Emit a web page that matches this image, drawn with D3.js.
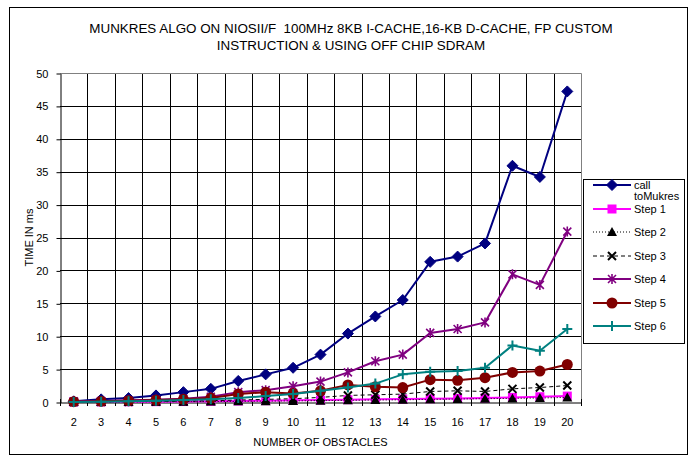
<!DOCTYPE html>
<html>
<head>
<meta charset="utf-8">
<script src="https://cdn.jsdelivr.net/npm/d3@7/dist/d3.min.js"></script>
<style>
  html, body { margin: 0; padding: 0; background: #fff; }
  svg { display: block; font-family: "Liberation Sans", Arial, sans-serif; }
</style>
</head>
<body>
<svg id="chart" width="697" height="458"></svg>
<script>
// Number of obstacles on the x axis
const obstacles = [2, 3, 4, 5, 6, 7, 8, 9, 10, 11, 12, 13, 14, 15, 16, 17, 18, 19, 20];

// Time in ms for each step of the algorithm
const callToMukres = [0.1, 0.4, 0.6, 1.0, 1.5, 2.0, 3.2, 4.2, 5.2, 7.2, 10.4, 13.0, 15.5, 21.3, 22.1, 24.1, 35.9, 34.2, 47.2];
const step1 = [0.01, 0.02, 0.03, 0.05, 0.07, 0.1, 0.15, 0.2, 0.25, 0.3, 0.35, 0.4, 0.45, 0.5, 0.55, 0.6, 0.7, 0.8, 0.9];
const step2 = [0.0, 0.01, 0.02, 0.03, 0.05, 0.07, 0.1, 0.13, 0.17, 0.2, 0.25, 0.3, 0.33, 0.4, 0.45, 0.5, 0.55, 0.6, 0.7];
const step3 = [0.0, 0.02, 0.05, 0.08, 0.1, 0.2, 0.3, 0.4, 0.5, 0.7, 1.0, 1.1, 1.2, 1.6, 1.7, 1.6, 2.0, 2.2, 2.5];
const step4 = [0.1, 0.15, 0.25, 0.35, 0.5, 0.8, 1.5, 1.8, 2.4, 3.1, 4.5, 6.2, 7.2, 10.5, 11.1, 12.1, 19.4, 17.8, 25.9];
const step5 = [0.05, 0.1, 0.2, 0.3, 0.4, 0.6, 1.2, 1.5, 1.3, 1.7, 2.6, 2.3, 2.2, 3.4, 3.3, 3.7, 4.5, 4.7, 5.7];
const step6 = [0.0, 0.05, 0.1, 0.2, 0.3, 0.4, 0.6, 0.9, 1.2, 1.7, 2.2, 2.8, 4.2, 4.6, 4.7, 5.2, 8.6, 7.8, 11.1];

const yTicks = [0, 5, 10, 15, 20, 25, 30, 35, 40, 45, 50];

const seriesNames = ["call\ntoMukres", "Step 1", "Step 2", "Step 3", "Step 4", "Step 5", "Step 6"];

const series = [
  { name: seriesNames[0], values: callToMukres, color: "#000080", width: 2, dash: null, marker: "diamond" },
  { name: seriesNames[1], values: step1, color: "#FF00FF", width: 2, dash: null, marker: "square" },
  { name: seriesNames[2], values: step2, color: "#000000", width: 1, dash: "1,2", marker: "triangle" },
  { name: seriesNames[3], values: step3, color: "#000000", width: 1, dash: "4,3", marker: "x" },
  { name: seriesNames[4], values: step4, color: "#800080", width: 2, dash: null, marker: "star" },
  { name: seriesNames[5], values: step5, color: "#800000", width: 2, dash: null, marker: "circle" },
  { name: seriesNames[6], values: step6, color: "#008080", width: 2, dash: null, marker: "plus" }
];

const svg = d3.select("#chart");

// Outer chart frame
svg.append("rect")
  .attr("x", 9.5).attr("y", 7.5).attr("width", 678).attr("height", 447)
  .attr("fill", "#fff").attr("stroke", "#000").attr("stroke-width", 1);

// Title (whitespace kept as written)
const title = svg.append("text")
  .attr("x", 351).attr("text-anchor", "middle")
  .attr("font-size", 13.4).attr("fill", "#000")
  .style("white-space", "pre");
title.append("tspan").attr("x", 351).attr("y", 33)
  .text("MUNKRES ALGO ON NIOSII/F  100MHz 8KB I-CACHE,16-KB D-CACHE, FP CUSTOM");
title.append("tspan").attr("x", 351).attr("y", 50)
  .text("INSTRUCTION & USING OFF CHIP SDRAM");

// Plot area
const plot = { left: 60, right: 581, top: 73, bottom: 402 };

const x = d3.scaleBand().domain(obstacles).range([plot.left, plot.right]).padding(0);
const y = d3.scaleLinear().domain([0, 50]).range([plot.bottom, plot.top]);
const cx = d => x(d) + x.bandwidth() / 2;

// Horizontal gridlines
svg.append("g").selectAll("line").data(yTicks.filter(t => t > 0)).join("line")
  .attr("x1", plot.left).attr("x2", plot.right)
  .attr("y1", d => Math.round(y(d)) + 0.5).attr("y2", d => Math.round(y(d)) + 0.5)
  .attr("stroke", "#000").attr("stroke-width", 1);

// Vertical gridlines at category boundaries
const boundaries = obstacles.map(d => x(d)).concat([plot.right]);
svg.append("g").selectAll("line").data(boundaries.slice(1, -1)).join("line")
  .attr("x1", d => Math.round(d) + 0.5).attr("x2", d => Math.round(d) + 0.5)
  .attr("y1", plot.top).attr("y2", plot.bottom)
  .attr("stroke", "#000").attr("stroke-width", 1);

// Plot border (top / right)
svg.append("path")
  .attr("d", `M${plot.left},${plot.top + 0.5}H${plot.right + 0.5}V${plot.bottom}`)
  .attr("fill", "none").attr("stroke", "#808080").attr("stroke-width", 1);

// Y axis
const yAxis = svg.append("g")
  .attr("transform", `translate(${plot.left + 0.5},0.5)`)
  .call(d3.axisLeft(y).tickValues(yTicks).tickSize(4).tickPadding(8).tickSizeOuter(0));
yAxis.select(".domain").attr("stroke", "#000");
yAxis.selectAll(".tick line").attr("stroke", "#000");
yAxis.selectAll(".tick text").attr("font-size", 11).attr("font-family", "Liberation Sans, Arial, sans-serif").attr("fill", "#000");

// X axis: labels centred on categories, tick marks on boundaries
const xAxis = svg.append("g")
  .attr("transform", `translate(0,${plot.bottom + 0.5})`)
  .call(d3.axisBottom(x).tickSize(0).tickPadding(16).tickSizeOuter(0));
xAxis.select(".domain").attr("stroke", "#000");
xAxis.selectAll(".tick text").attr("font-size", 11).attr("font-family", "Liberation Sans, Arial, sans-serif").attr("fill", "#000");
svg.append("g").selectAll("line").data(boundaries).join("line")
  .attr("x1", d => Math.round(d) + 0.5).attr("x2", d => Math.round(d) + 0.5)
  .attr("y1", plot.bottom - 3).attr("y2", plot.bottom + 4)
  .attr("stroke", "#000").attr("stroke-width", 1);

// Axis titles
svg.append("text")
  .attr("x", (plot.left + plot.right) / 2).attr("y", 446)
  .attr("text-anchor", "middle").attr("font-size", 11).attr("fill", "#000")
  .text("NUMBER OF OBSTACLES");
svg.append("text")
  .attr("transform", `translate(33,${(plot.top + plot.bottom) / 2}) rotate(-90)`)
  .attr("text-anchor", "middle").attr("font-size", 11).attr("fill", "#000")
  .text("TIME IN ms");

// Marker drawing
function drawMarker(g, type, color) {
  switch (type) {
    case "diamond":
      g.append("path").attr("d", "M0,-5.5L5.5,0L0,5.5L-5.5,0Z").attr("fill", color).attr("stroke", color).attr("stroke-width", 1);
      break;
    case "square":
      g.append("rect").attr("x", -4.5).attr("y", -4.5).attr("width", 9).attr("height", 9).attr("fill", color);
      break;
    case "triangle":
      g.append("path").attr("d", "M0,-5L5,4L-5,4Z").attr("fill", color);
      break;
    case "x":
      g.append("path").attr("d", "M-4,-4L4,4M-4,4L4,-4").attr("stroke", color).attr("stroke-width", 2).attr("fill", "none");
      break;
    case "star":
      g.append("path").attr("d", "M-4,-4L4,4M-4,4L4,-4M0,-5V5").attr("stroke", color).attr("stroke-width", 1.6).attr("fill", "none");
      break;
    case "circle":
      g.append("circle").attr("r", 5.5).attr("fill", color);
      break;
    case "plus":
      g.append("path").attr("d", "M-5,0H5M0,-5V5").attr("stroke", color).attr("stroke-width", 2).attr("fill", "none");
      break;
  }
}

const line = d3.line().x((d, i) => cx(obstacles[i])).y(d => y(d));

// Series lines and markers
series.forEach(s => {
  const g = svg.append("g");
  g.append("path")
    .attr("d", line(s.values))
    .attr("fill", "none")
    .attr("stroke", s.color)
    .attr("stroke-width", s.width)
    .attr("stroke-dasharray", s.dash)
    .attr("stroke-linejoin", "round");
  s.values.forEach((v, i) => {
    const m = g.append("g").attr("transform", `translate(${cx(obstacles[i])},${y(v)})`);
    drawMarker(m, s.marker, s.color);
  });
});

// Legend
const legend = svg.append("g");
legend.append("rect")
  .attr("x", 583.5).attr("y", 179.5).attr("width", 101).attr("height", 164)
  .attr("fill", "#fff").attr("stroke", "#000").attr("stroke-width", 1);
const legendRows = [185, 209, 232, 256, 279, 303, 326];
series.forEach((s, i) => {
  const ly = legendRows[i];
  const row = legend.append("g");
  row.append("line")
    .attr("x1", 593).attr("x2", 631).attr("y1", ly).attr("y2", ly)
    .attr("stroke", s.color).attr("stroke-width", s.width)
    .attr("stroke-dasharray", s.dash);
  drawMarker(row.append("g").attr("transform", `translate(612,${ly})`), s.marker, s.color);
  const lines = s.name.split("\n");
  const t = row.append("text").attr("font-size", 11).attr("fill", "#000");
  lines.forEach((ln, k) => {
    t.append("tspan").attr("x", 634).attr("y", ly + 4 + k * 11).text(ln);
  });
});
</script>
</body>
</html>
